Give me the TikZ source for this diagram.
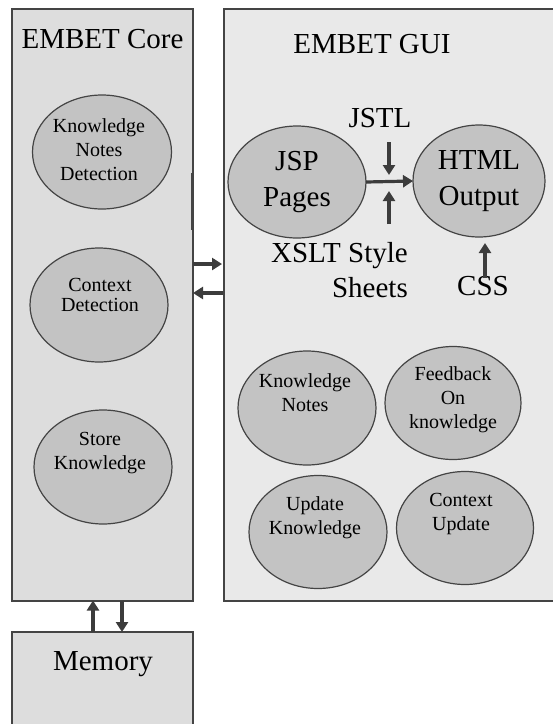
\documentclass[tikz,border=0pt]{standalone}
\usepackage{fontspec}
\setmainfont{Liberation Serif}
\usetikzlibrary{shapes.geometric,arrows.meta}
\definecolor{corefill}{HTML}{DDDDDD}
\definecolor{guifill}{HTML}{E9E9E9}
\definecolor{ellfill}{HTML}{C3C3C3}
\definecolor{edgecol}{HTML}{444444}
\definecolor{arrcol}{HTML}{3C3C3C}
\begin{document}
\begin{tikzpicture}[x=1pt,y=-1pt,
  panel/.style={draw=edgecol,line width=2pt,inner sep=0pt,outer sep=0pt},
  bubble/.style={ellipse,draw=edgecol,line width=1.2pt,fill=ellfill,inner sep=0pt,outer sep=0pt},
  big/.style={font=\fontsize{29}{35}\selectfont,inner sep=0pt},
  small/.style={font=\fontsize{20}{24}\selectfont,align=center,inner sep=0pt},
  flow/.style={draw=arrcol,line width=3.2pt,-{Triangle[length=10pt,width=12pt]}},
]
\useasboundingbox (0,0) rectangle (553,724);
\clip (0,0) rectangle (553,724);
\fill[white] (0,0) rectangle (553,724);

% panels
\node[panel,fill=corefill,minimum width=181pt,minimum height=592pt,anchor=north west] (core) at (11.5,8.5) {};
\node[panel,fill=guifill,minimum width=345pt,minimum height=592pt,anchor=north west] (gui) at (224,8.5) {};
\node[panel,fill=corefill,minimum width=181pt,minimum height=110pt,anchor=north west] (mem) at (11.5,632) {};
\draw[edgecol,line width=3pt] (192.5,173) -- (192.5,230);

% titles
\node[big,anchor=base] (coretitle) at (102.5,48) {EMBET Core};
\node[big,anchor=base] (guititle) at (372,53) {EMBET GUI};
\node[big,anchor=base] (memtitle) at (103,670) {Memory};

% core bubbles
\node[bubble,minimum width=139pt,minimum height=114pt] (knd) at (102,152) {};
\node[small] (kndt) at (99,150) {Knowledge\\Notes\\Detection};
\node[bubble,minimum width=138pt,minimum height=114pt] (cd) at (99,305) {};
\node[small,font=\fontsize{20}{20}\selectfont] (cdt) at (100,295) {Context\\Detection};
\node[bubble,minimum width=138pt,minimum height=114pt] (sk) at (103,467) {};
\node[small] (skt) at (100,453) {Store\\Knowledge};

% GUI top bubbles
\node[bubble,minimum width=138pt,minimum height=112pt,font=\fontsize{29}{36}\selectfont,align=center] (jsp) at (297,182) {JSP\\Pages};
\node[bubble,minimum width=132pt,minimum height=112pt,font=\fontsize{29}{36}\selectfont,align=center] (html) at (479,181) {HTML\\Output};
\draw[flow] (jsp.east) -- (html.west);

\node[big,anchor=base] (jstl) at (380,127) {JSTL};
\coordinate (jstlA) at (389,142);
\coordinate (jstlB) at (389,175);
\draw[flow] (jstlA) -- (jstlB);

\node[big,anchor=base east,align=right] (xslt) at (408,262) {XSLT Style};
\node[big,anchor=base east] (sheets) at (408,297) {Sheets};
\coordinate (xsltA) at (389,224);
\coordinate (xsltB) at (389,191);
\draw[flow] (xsltA) -- (xsltB);

\node[big,anchor=base] (css) at (483,295) {CSS};
\coordinate (cssA) at (485,278);
\coordinate (cssB) at (485,243);
\draw[flow] (cssA) -- (cssB);

% GUI bottom bubbles
\node[bubble,minimum width=138pt,minimum height=114pt] (kn) at (307,408) {};
\node[small] (knt) at (305,393) {Knowledge\\Notes};
\node[bubble,minimum width=136pt,minimum height=113pt] (fb) at (453,403) {};
\node[small] (fbt) at (453,400) {Feedback\\On\\knowledge};
\node[bubble,minimum width=138pt,minimum height=113pt] (uk) at (318,532) {};
\node[small] (ukt) at (315,518) {Update\\Knowledge};
\node[bubble,minimum width=137pt,minimum height=113pt] (cu) at (465,528) {};
\node[small] (cut) at (461,514) {Context\\Update};

% core <-> gui
\coordinate (cg1) at (193,264);
\coordinate (cg2) at (222,264);
\draw[flow] (cg1) -- (cg2);
\coordinate (gc1) at (223,293);
\coordinate (gc2) at (193,293);
\draw[flow] (gc1) -- (gc2);

% core <-> memory
\draw[flow] (mem.north -| 93,0) -- (core.south -| 93,0);
\draw[flow] (core.south -| 122,0) -- (mem.north -| 122,0);
\end{tikzpicture}
\end{document}
